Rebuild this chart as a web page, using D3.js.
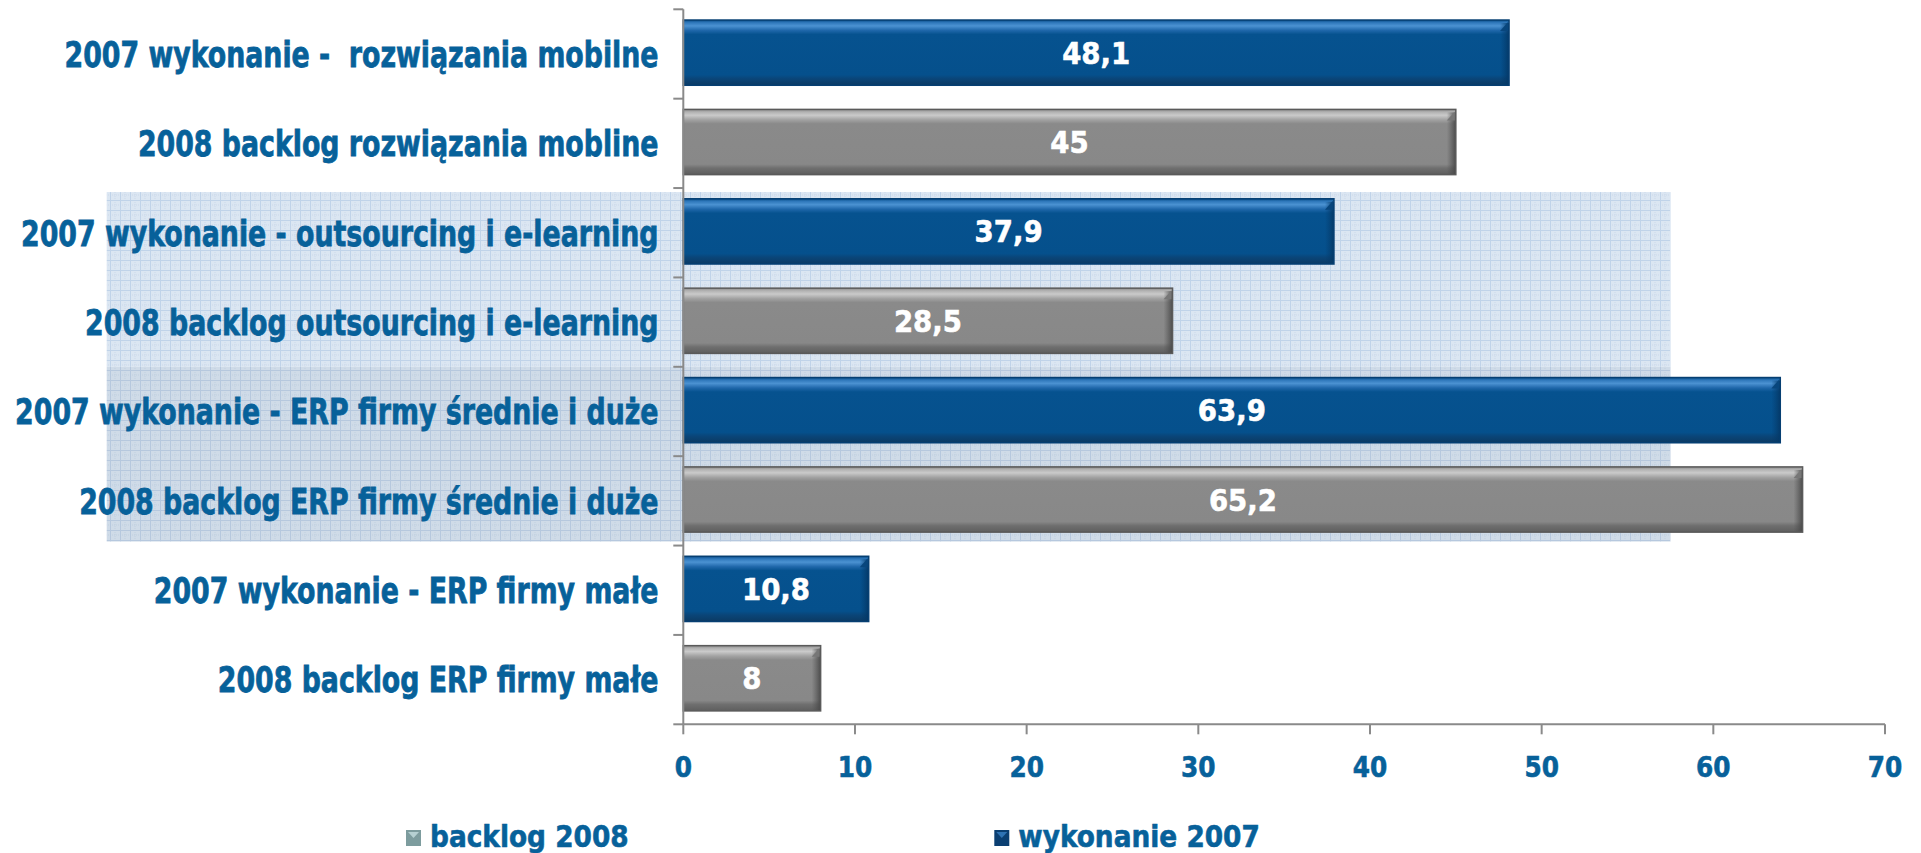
<!DOCTYPE html>
<html>
<head>
<meta charset="utf-8">
<script src="https://cdn.jsdelivr.net/npm/d3@7"></script>
<style>
  html, body { margin: 0; padding: 0; background: #ffffff; overflow: hidden; }
  svg { display: block; }
  text { font-family: "DejaVu Sans", Verdana, sans-serif; font-weight: bold; white-space: pre; }
</style>
</head>
<body>
<svg id="chart" width="1921" height="853"></svg>
<script>
// ---- data ----
const categories = [
  "2007 wykonanie -  rozwiązania mobilne",
  "2008 backlog rozwiązania mobline",
  "2007 wykonanie - outsourcing i e-learning",
  "2008 backlog outsourcing i e-learning",
  "2007 wykonanie - ERP firmy średnie i duże",
  "2008 backlog ERP firmy średnie i duże",
  "2007 wykonanie - ERP firmy małe",
  "2008 backlog ERP firmy małe"
];
const wykonanie2007 = [48.1, null, 37.9, null, 63.9, null, 10.8, null];
const backlog2008   = [null, 45, null, 28.5, null, 65.2, null, 8];
const seriesNames = ["backlog 2008", "wykonanie 2007"];
const xTicks = [0, 10, 20, 30, 40, 50, 60, 70];
const xDomain = [0, 70];
const highlightRange = [2, 5]; // category indices covered by the shaded background

// ---- layout ----
const plot = { left: 683.3, right: 1885, top: 9.3, bottom: 724.3 };
const labelColor = "#07619a";
const axisColor = "#8a8a8a";

const svg = d3.select("#chart");
const defs = svg.append("defs");

const x = d3.scaleLinear().domain(xDomain).range([plot.left, plot.right]);
const y = d3.scaleBand().domain(categories).range([plot.top, plot.bottom]).padding(0);
const bw = y.bandwidth();

// ---- patterns for shaded background ----
function gridPattern(id, bg, line, dot) {
  const p = defs.append("pattern").attr("id", id)
    .attr("width", 10).attr("height", 10).attr("patternUnits", "userSpaceOnUse");
  p.append("rect").attr("width", 10).attr("height", 10).attr("fill", bg);
  p.append("path").attr("d", "M5,0V10M0,5H10").attr("stroke", dot)
    .attr("stroke-width", 1).attr("stroke-dasharray", "1,1");
  p.append("path").attr("d", "M0.5,0V10M0,0.5H10").attr("stroke", line).attr("stroke-width", 1);
}
gridPattern("gridLight", "#dbe6f2", "#c0d3e9", "#cbd9ea");
gridPattern("gridDark", "#cfdbe8", "#b6c8de", "#c0cfe1");

// ---- gradients for bars ----
function vGrad(id, stops) {
  const g = defs.append("linearGradient").attr("id", id)
    .attr("x1", 0).attr("y1", 0).attr("x2", 0).attr("y2", 1);
  stops.forEach(s => g.append("stop").attr("offset", s[0]).attr("stop-color", s[1]));
}
function hGrad(id, stops) {
  const g = defs.append("linearGradient").attr("id", id)
    .attr("x1", 0).attr("y1", 0).attr("x2", 1).attr("y2", 0);
  stops.forEach(s => g.append("stop").attr("offset", s[0]).attr("stop-color", s[1]));
}
vGrad("blueV", [[0, "#0a4f8a"], [0.04, "#2f78bb"], [0.09, "#4b92d2"], [0.16, "#1f67aa"], [0.22, "#06528f"],
  [0.84, "#05508c"], [0.9, "#0a4578"], [1, "#0b3a63"]]);
vGrad("grayV", [[0, "#8c8c8c"], [0.04, "#b2b2b2"], [0.09, "#cacaca"], [0.16, "#a2a2a2"], [0.22, "#8a8a8a"],
  [0.84, "#888888"], [0.9, "#6f6f6f"], [1, "#5e5e5e"]]);
hGrad("blueH", [[0, "rgba(4,60,110,0)"], [1, "rgba(4,55,100,0.9)"]]);
hGrad("grayH", [[0, "rgba(80,80,80,0)"], [1, "rgba(70,70,70,0.9)"]]);

// ---- shaded background block ----
const hTop = y(categories[highlightRange[0]]) + 4;
const hMid = y(categories[highlightRange[0] + 2]);
const hBot = y(categories[highlightRange[1]]) + bw - 4;
const hLeft = 106.7, hRight = x(57.5);
svg.append("rect").attr("x", hLeft).attr("y", hTop).attr("width", hRight - hLeft).attr("height", hMid - hTop)
  .attr("fill", "url(#gridLight)");
svg.append("rect").attr("x", hLeft).attr("y", hMid).attr("width", hRight - hLeft).attr("height", hBot - hMid)
  .attr("fill", "url(#gridDark)");

// ---- bars ----
const rows = categories.map((c, i) => {
  const isW = wykonanie2007[i] != null;
  return { cat: c, value: isW ? wykonanie2007[i] : backlog2008[i], series: isW ? "wykonanie 2007" : "backlog 2008" };
});

const barTop = 0.12 * bw, barH = 0.73 * bw;
const barG = svg.append("g").selectAll("g").data(rows).join("g");
barG.each(function(d) {
  const g = d3.select(this);
  const blue = d.series === "wykonanie 2007";
  const x0 = x(0), x1 = x(d.value), yy = y(d.cat) + barTop;
  g.append("rect").attr("x", x0).attr("y", yy).attr("width", x1 - x0).attr("height", barH)
    .attr("fill", blue ? "url(#blueV)" : "url(#grayV)");
  g.append("rect").attr("x", x1 - 9).attr("y", yy + 3).attr("width", 9).attr("height", barH - 3)
    .attr("fill", blue ? "url(#blueH)" : "url(#grayH)");
  g.append("path").attr("d", `M${x1 - 9},${yy + 11}L${x1 - 1},${yy + 2}L${x1 - 1},${yy + 11}Z`)
    .attr("fill", blue ? "#08467d" : "#777777");
  g.append("rect").attr("x", x0).attr("y", yy).attr("width", x1 - x0).attr("height", barH)
    .attr("fill", "none").attr("stroke", blue ? "#063f72" : "#5a5a5a").attr("stroke-width", 1.5);
  g.append("text")
    .attr("transform", `translate(${(x0 + x1) / 2},${yy + barH / 2 + 11}) scale(0.92,1)`)
    .attr("text-anchor", "middle").attr("font-size", 30).attr("fill", "#ffffff")
    .attr("stroke", "#ffffff").attr("stroke-width", 0.6)
    .text(String(d.value).replace(".", ","));
});

// ---- axes ----
const axisG = svg.append("g").attr("stroke", axisColor).attr("stroke-width", 2).attr("fill", "none");
axisG.append("line").attr("x1", x(0)).attr("x2", x(0)).attr("y1", plot.top).attr("y2", plot.bottom);
const yBounds = categories.map(c => y(c)).concat([plot.bottom]);
axisG.selectAll("line.yt").data(yBounds).join("line").attr("class", "yt")
  .attr("x1", x(0) - 10).attr("x2", x(0)).attr("y1", d => d).attr("y2", d => d);
axisG.append("line").attr("x1", x(0)).attr("x2", x(xDomain[1])).attr("y1", plot.bottom).attr("y2", plot.bottom);
axisG.selectAll("line.xt").data(xTicks).join("line").attr("class", "xt")
  .attr("x1", d => x(d)).attr("x2", d => x(d)).attr("y1", plot.bottom).attr("y2", plot.bottom + 10);

// x tick labels
svg.append("g").selectAll("text").data(xTicks).join("text")
  .attr("transform", d => `translate(${x(d)},777) scale(0.87,1)`)
  .attr("text-anchor", "middle").attr("font-size", 28.5).attr("fill", labelColor)
  .attr("stroke", labelColor).attr("stroke-width", 0.6)
  .text(d => d);

// category labels
svg.append("g").selectAll("text").data(categories).join("text")
  .attr("transform", d => `translate(658.5,${y(d) + bw / 2 + 12.8}) scale(0.755,1)`)
  .attr("text-anchor", "end").attr("font-size", 35.5).attr("fill", labelColor)
  .attr("stroke", labelColor).attr("stroke-width", 0.8)
  .text(d => d);

// ---- legend ----
const legendItems = [
  { name: seriesNames[0], mx: 406, tx: 430, fill: "#7d9c9e", hi: "#b6d0d2" },
  { name: seriesNames[1], mx: 994.3, tx: 1018.3, fill: "#0b3f72", hi: "#2f73b4" }
];
const lg = svg.append("g");
legendItems.forEach(it => {
  lg.append("rect").attr("x", it.mx).attr("y", 830).attr("width", 15).attr("height", 16).attr("fill", it.fill);
  lg.append("path").attr("d", `M${it.mx + 2},832L${it.mx + 13},832L${it.mx + 7.5},838Z`).attr("fill", it.hi);
  lg.append("text").attr("transform", `translate(${it.tx},846.5) scale(0.88,1)`)
    .attr("font-size", 30).attr("fill", labelColor)
    .attr("stroke", labelColor).attr("stroke-width", 0.6).text(it.name);
});
</script>
</body>
</html>
